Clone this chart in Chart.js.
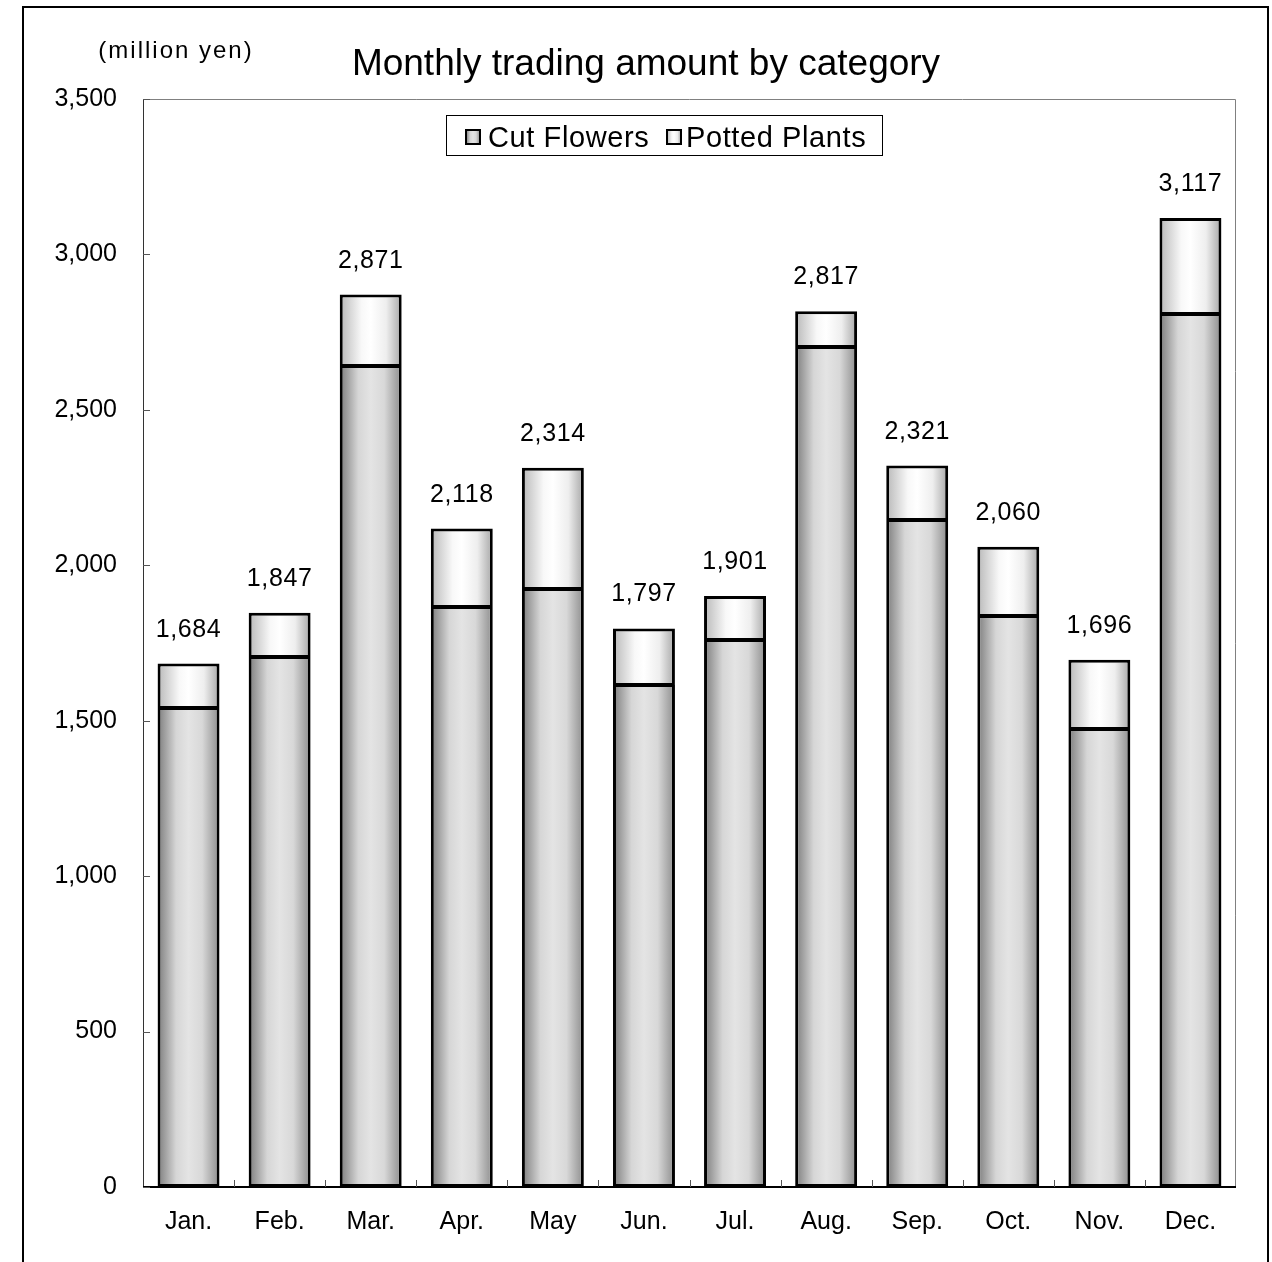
<!DOCTYPE html>
<html>
<head>
<meta charset="utf-8">
<script src="https://cdn.jsdelivr.net/npm/chart.js@4.4.1/dist/chart.umd.min.js"></script>
<style>
  html, body { margin: 0; padding: 0; background: #fff; }
  #wrap { width: 1272px; height: 1262px; position: relative; }
</style>
</head>
<body>
<div id="wrap"><canvas id="chart"></canvas></div>
<script>
const months = ['Jan.', 'Feb.', 'Mar.', 'Apr.', 'May', 'Jun.', 'Jul.', 'Aug.', 'Sep.', 'Oct.', 'Nov.', 'Dec.'];
const totals = [1684, 1847, 2871, 2118, 2314, 1797, 1901, 2817, 2321, 2060, 1696, 3117];
const cutFlowers = [1541, 1705, 2641, 1866, 1924, 1615, 1760, 2702, 2146, 1837, 1473, 2808];
const pottedPlants = totals.map((t, i) => t - cutFlowers[i]);
const yTicks = [0, 500, 1000, 1500, 2000, 2500, 3000, 3500];

const FONT = '"Liberation Sans", Arial, sans-serif';
const BAR_PCT = 0.68;
const fmt = v => v.toLocaleString('en-US');

// horizontal "cylinder" shading like the spreadsheet original
function cutGradient(ctx, x0, x1) {
    const g = ctx.createLinearGradient(x0, 0, x1, 0);
    g.addColorStop(0, '#7c7c7c');
    g.addColorStop(0.3, '#d6d6d6');
    g.addColorStop(0.5, '#e4e4e4');
    g.addColorStop(0.72, '#d8d8d8');
    g.addColorStop(1, '#8c8c8c');
    return g;
}
function pottedGradient(ctx, x0, x1) {
    const g = ctx.createLinearGradient(x0, 0, x1, 0);
    g.addColorStop(0, '#b8b8b8');
    g.addColorStop(0.35, '#f8f8f8');
    g.addColorStop(0.5, '#ffffff');
    g.addColorStop(0.75, '#eeeeee');
    g.addColorStop(1, '#a6a6a6');
    return g;
}

// scriptable fill: a gradient for each bar from its own x span
const barFill = makeGrad => c => {
    const chart = c.chart;
    if (!chart.chartArea || c.dataIndex === undefined) return '#ccc';
    const xs = chart.scales.x;
    const step = (chart.chartArea.right - chart.chartArea.left) / months.length;
    const cx = xs.getPixelForValue(c.dataIndex);
    const w = step * BAR_PCT;
    return makeGrad(chart.ctx, cx - w / 2, cx + w / 2);
};

const decorations = {
    id: 'decorations',
    afterDraw(chart) {
        const ctx = chart.ctx;
        const a = chart.chartArea;
        const x = chart.scales.x, y = chart.scales.y;
        ctx.save();

        // outer frame
        ctx.strokeStyle = '#000';
        ctx.lineWidth = 2;
        ctx.beginPath();
        ctx.moveTo(23, 1262); ctx.lineTo(23, 7); ctx.lineTo(1268, 7); ctx.lineTo(1268, 1262);
        ctx.stroke();

        // plot border
        ctx.lineWidth = 1;
        ctx.strokeStyle = '#808080';
        ctx.beginPath();
        ctx.moveTo(a.right - 0.5, a.bottom); ctx.lineTo(a.right - 0.5, a.top + 0.5); ctx.lineTo(a.left, a.top + 0.5);
        ctx.stroke();
        ctx.strokeStyle = '#333';
        ctx.beginPath();
        ctx.moveTo(a.left + 0.5, a.top); ctx.lineTo(a.left + 0.5, a.bottom);
        ctx.stroke();
        ctx.strokeStyle = '#000';
        ctx.lineWidth = 2;
        ctx.beginPath();
        ctx.moveTo(a.left, a.bottom); ctx.lineTo(a.right, a.bottom);
        ctx.stroke();

        // inside ticks
        ctx.lineWidth = 1;
        ctx.strokeStyle = '#555';
        ctx.beginPath();
        yTicks.forEach(v => {
            const py = Math.round(y.getPixelForValue(v)) + 0.5;
            ctx.moveTo(a.left, py); ctx.lineTo(a.left + 7, py);
        });
        const step = (a.right - a.left) / months.length;
        for (let i = 1; i < months.length; i++) {
            const px = Math.round(a.left + step * i) + 0.5;
            ctx.moveTo(px, a.bottom); ctx.lineTo(px, a.bottom - 7);
        }
        ctx.stroke();

        // totals above bars
        ctx.fillStyle = '#000';
        ctx.font = '25px ' + FONT;
        ctx.letterSpacing = '0.6px';
        ctx.textAlign = 'center';
        ctx.textBaseline = 'alphabetic';
        totals.forEach((t, i) => {
            ctx.fillText(fmt(t), x.getPixelForValue(i), y.getPixelForValue(t) - 27);
        });

        // title and unit
        ctx.letterSpacing = '0px';
        ctx.font = '37px ' + FONT;
        ctx.fillText('Monthly trading amount by category', 646, 75);
        ctx.font = '24px ' + FONT;
        ctx.letterSpacing = '2px';
        ctx.fillText('(million yen)', 176, 58);

        // legend
        ctx.lineWidth = 1;
        ctx.strokeStyle = '#000';
        ctx.fillStyle = '#fff';
        ctx.fillRect(446.5, 115.5, 436, 40);
        ctx.strokeRect(446.5, 115.5, 436, 40);
        const items = [
            { label: 'Cut Flowers', sx: 466, tx: 488, grad: cutGradient },
            { label: 'Potted Plants', sx: 667, tx: 686, grad: pottedGradient }
        ];
        ctx.font = '29px ' + FONT;
        ctx.letterSpacing = '0.6px';
        items.forEach(it => {
            ctx.fillStyle = it.grad(ctx, it.sx, it.sx + 14);
            ctx.fillRect(it.sx, 130, 14, 14);
            ctx.lineWidth = 2;
            ctx.strokeRect(it.sx, 130, 14, 14);
            ctx.fillStyle = '#000';
            ctx.textAlign = 'left';
            ctx.textBaseline = 'alphabetic';
            ctx.fillText(it.label, it.tx, 147);
        });
        ctx.restore();
    }
};

new Chart(document.getElementById('chart'), {
    type: 'bar',
    data: {
        labels: months,
        datasets: [
            {
                label: 'Cut Flowers',
                data: cutFlowers,
                backgroundColor: barFill(cutGradient),
                borderColor: '#000',
                borderWidth: { top: 2, left: 3, right: 3, bottom: 3 },
                borderSkipped: false,
                barPercentage: BAR_PCT,
                categoryPercentage: 1
            },
            {
                label: 'Potted Plants',
                data: pottedPlants,
                backgroundColor: barFill(pottedGradient),
                borderColor: '#000',
                borderWidth: { top: 3, left: 3, right: 3, bottom: 2 },
                borderSkipped: false,
                barPercentage: BAR_PCT,
                categoryPercentage: 1
            }
        ]
    },
    options: {
        responsive: true,
        maintainAspectRatio: false,
        animation: false,
        devicePixelRatio: 1,
        layout: { padding: { top: 99, right: 36, bottom: 0, left: 0 } },
        plugins: {
            legend: { display: false },
            tooltip: { enabled: false },
            title: { display: false }
        },
        scales: {
            x: {
                stacked: true,
                grid: { display: false, drawTicks: false },
                border: { display: false },
                ticks: { color: '#000', font: { family: FONT, size: 25 }, padding: 20, maxRotation: 0 },
                afterFit(scale) { scale.height = 75; }
            },
            y: {
                stacked: true,
                min: 0,
                max: 3500,
                grid: { display: false, drawTicks: false },
                border: { display: false },
                ticks: {
                    stepSize: 500,
                    color: '#000',
                    font: { family: FONT, size: 25 },
                    padding: 26,
                    callback: v => fmt(v)
                },
                afterFit(scale) { scale.width = 143; }
            }
        }
    },
    plugins: [decorations]
});
</script>
</body>
</html>
